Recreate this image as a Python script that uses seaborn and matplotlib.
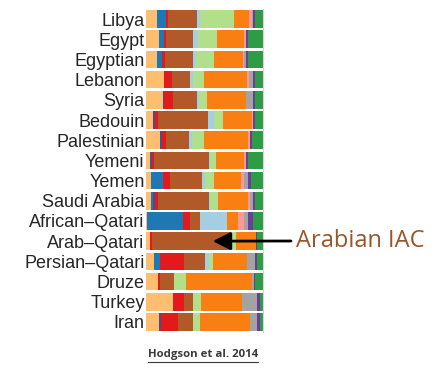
import numpy as np
import pandas as pd
import matplotlib.pyplot as plt
import seaborn as sns

# populations, top to bottom
populations = ["Libya", "Egypt", "Egyptian", "Lebanon", "Syria", "Bedouin",
               "Palestinian", "Yemeni", "Yemen", "Saudi Arabia",
               "African\u2013Qatari", "Arab\u2013Qatari", "Persian\u2013Qatari",
               "Druze", "Turkey", "Iran"]

# ancestry components, left to right inside each bar
components = ["k1", "k2", "k3", "k4", "k5", "k6", "k7", "k8", "k9", "k10", "k11", "k12"]
comp_colors = ["#FDBF6F", "#1F78B4", "#4A4E8C", "#E31A1C", "#B15928", "#A6CEE3",
               "#B2DF8A", "#FA7F12", "#FB9A99", "#A3A3A3", "#6A3D9A", "#2E9B45"]

# estimated ancestry shares per population (relative widths, one per component)
k1 = [32, 38, 32, 52, 50, 22, 40, 12, 15, 15, 2, 11, 25, 35, 80, 38]
k2 = [28, 14, 16, 0, 0, 0, 0, 0, 35, 7, 108, 0, 15, 0, 0, 0]
k3 = [0, 0, 0, 0, 3, 6, 8, 6, 0, 6, 0, 0, 0, 0, 0, 7]
k4 = [5, 6, 7, 24, 26, 7, 12, 7, 20, 7, 20, 8, 72, 7, 32, 50]
k5 = [85, 80, 83, 54, 72, 147, 68, 160, 95, 150, 30, 232, 61, 40, 28, 43]
k6 = [10, 14, 10, 8, 5, 18, 7, 5, 10, 5, 80, 0, 12, 0, 0, 0]
k7 = [100, 56, 52, 34, 23, 28, 37, 15, 25, 22, 0, 14, 13, 35, 22, 22]
k8 = [45, 82, 85, 127, 117, 84, 130, 85, 80, 88, 30, 58, 100, 195, 120, 148]
k9 = [7, 5, 5, 4, 0, 4, 6, 5, 10, 8, 20, 0, 0, 0, 0, 0]
k10 = [4, 0, 5, 12, 20, 0, 0, 0, 12, 7, 10, 0, 22, 6, 46, 20]
k11 = [6, 7, 5, 6, 5, 6, 4, 5, 8, 7, 15, 5, 8, 4, 7, 9]
k12 = [23, 43, 45, 24, 24, 23, 33, 45, 35, 23, 30, 17, 17, 23, 10, 8]

df = pd.DataFrame(dict(zip(components, [k1, k2, k3, k4, k5, k6, k7, k8, k9, k10, k11, k12])),
                  index=populations)
df = df.div(df.sum(axis=1), axis=0)
cum = df.cumsum(axis=1)

sns.set_theme(style="white")
plt.rcParams['font.family'] = ['Liberation Sans', 'DejaVu Sans']

fig = plt.figure(figsize=(4.36, 3.74), dpi=100)
ax = fig.add_axes([146 / 436, 1 - 332 / 374, 117 / 436, 323 / 374])

# stacked bars: draw the cumulative totals from the right-most component backwards
for comp, col in reversed(list(zip(components, comp_colors))):
    sns.barplot(x=cum[comp].values, y=populations, orient="h", color=col,
                saturation=1, width=0.87, linewidth=0, ax=ax)

ax.set_xlim(0, 1)
ax.set_ylim(len(populations) - 0.5, -0.5)
ax.set_xticks([])
ax.set_xlabel("")
ax.set_ylabel("")
ax.tick_params(axis="y", length=0, pad=1, labelsize=13)
for s in ["top", "bottom", "left"]:
    ax.spines[s].set_visible(False)
ax.spines["right"].set_color("#d5d5d5")
ax.spines["right"].set_linewidth(0.8)

# arrow to the Arabian component
row = populations.index("Arab\u2013Qatari")
ax.annotate("", xy=(0.57, row), xytext=(291 / 436, 1 - 241 / 374),
            textcoords="figure fraction",
            arrowprops=dict(arrowstyle="-|>,head_length=0.9,head_width=0.45",
                            color="black", lw=2.0, shrinkA=0, shrinkB=0))
fig.text(296 / 436, 1 - 241 / 374, "Arabian IAC", color="#9A5528",
         fontsize=17, family=["Open Sans", "DejaVu Sans"], va="center", ha="left")

cap = fig.text(203 / 436, 1 - 355 / 374, "Hodgson et al. 2014", color="#3a3a3a",
               fontsize=8.2, fontweight="bold", family=["Open Sans", "DejaVu Sans"],
               ha="center", va="center")
fig.canvas.draw()
bb = cap.get_window_extent().transformed(fig.transFigure.inverted())
fig.add_artist(plt.Line2D([bb.x0, bb.x1], [bb.y0 - 0.004, bb.y0 - 0.004],
                          transform=fig.transFigure, color="#3a3a3a", lw=0.8))

fig.savefig("out.png", dpi=100)
